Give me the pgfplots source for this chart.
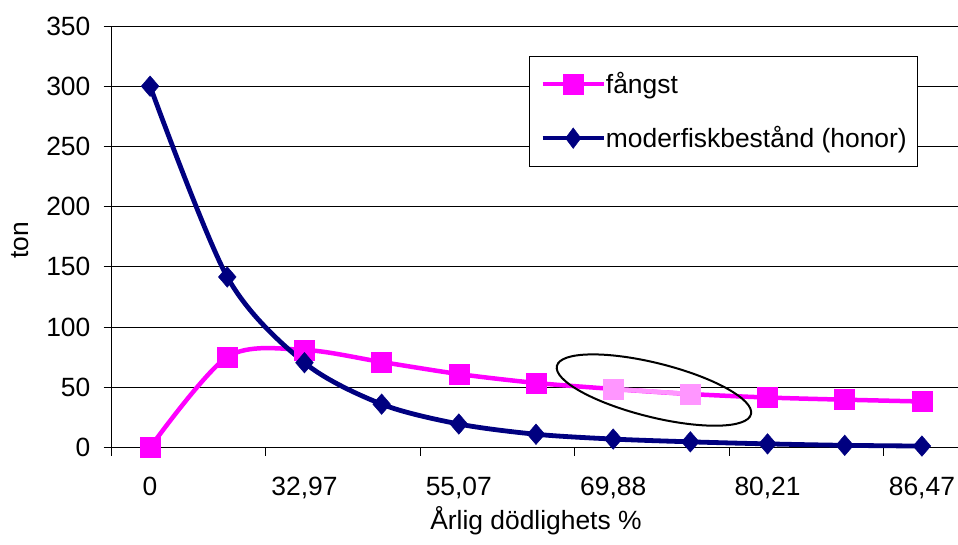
\documentclass[border=0pt]{standalone}
\usepackage{fontspec}
\setmainfont{Liberation Sans}
\usepackage{pgfplots}
\pgfplotsset{compat=1.18}
\definecolor{fmag}{RGB}{255,0,255}
\definecolor{fnavy}{RGB}{0,0,128}
\definecolor{flight}{RGB}{255,150,255}
\begin{document}
\begin{tikzpicture}[font=\fontsize{26.4}{31}\selectfont]
\begin{axis}[
  scale only axis, width=849pt, height=421.5pt,
  xmin=-0.5, xmax=10.5, ymin=0, ymax=350,
  axis lines*=left,
  axis line style={line width=0.8pt, black, -},
  clip=false,
  tick align=outside,
  major tick length=8pt,
  tick style={line width=0.8pt, black},
  xtick={-0.5,1.5,3.5,5.5,7.5,9.5},
  xticklabels={},
  extra x ticks={0,2,4,6,8,10},
  extra x tick labels={0,{32,97},{55,07},{69,88},{80,21},{86,47}},
  extra x tick style={major tick length=0pt, grid=none},
  ytick={0,50,...,350},
  ymajorgrids,
  major grid style={black, line width=0.8pt},
  /pgf/number format/assume math mode=true,
  yticklabel style={inner sep=0pt, anchor=east, xshift=-13pt},
  xticklabel style={inner sep=0pt, anchor=north, yshift=-29.5pt},
  xlabel={Årlig dödlighets \%},
  ylabel={ton},
  xlabel style={at={(axis description cs:0.5,-0.1934)}, anchor=base, inner sep=0pt},
  ylabel style={at={(axis description cs:-0.1072,0.491)}, anchor=center, inner sep=0pt},
  legend style={at={(axis description cs:0.4918,0.9288)}, anchor=north west,
    draw=black, line width=0.8pt, inner xsep=11pt, inner ysep=15.5pt,
    row sep=29.5pt,
    nodes={inner sep=0pt, text height=21.5pt, text depth=3pt},
    /tikz/every even column/.append style={column sep=5pt}},
  legend cell align=left,
  legend image code/.code={\draw[#1, line width=4.5pt, mark repeat=2, mark phase=2, mark options={line width=0.5pt}] plot coordinates {(0pt,0pt) (30.5pt,0pt) (61pt,0pt)};},
]
\addplot[fmag, line width=4.5pt, smooth, tension=0.5, mark=square*, mark size=10pt, mark options={line width=0.5pt}]
  coordinates {(0,0) (1,75.2) (2,81) (3,71) (4,61) (5,53.6) (6,48.6) (7,44.4) (8,41.5) (9,39.7) (10,38.2)};
\addlegendentry{fångst}
\addplot[flight, line width=4.5pt, mark=square*, mark size=10pt, mark options={line width=0.5pt}, forget plot]
  coordinates {(6,48.6) (7,44.4)};
\addplot[fnavy, line width=4.8pt, smooth, tension=0.5, mark=diamond*, mark size=10.25pt, mark options={line width=0.5pt, xscale=1.15}]
  coordinates {(0,300) (1,141.6) (2,70.4) (3,36) (4,19.5) (5,11) (6,7) (7,4.7) (8,3) (9,1.8) (10,1.2)};
\addlegendentry{moderfiskbestånd (honor)}
\draw[black, line width=2pt, rotate around={-14:(axis cs:6.528,47.7)}] (axis cs:6.528,47.7) ellipse [x radius=100pt, y radius=27pt];
\coordinate (sw) at (rel axis cs:0,0);
\end{axis}
\pgfresetboundingbox
\path (sw) ++(-111.5pt,-96.5pt) rectangle ++(958pt,544pt);
\end{tikzpicture}
\end{document}
